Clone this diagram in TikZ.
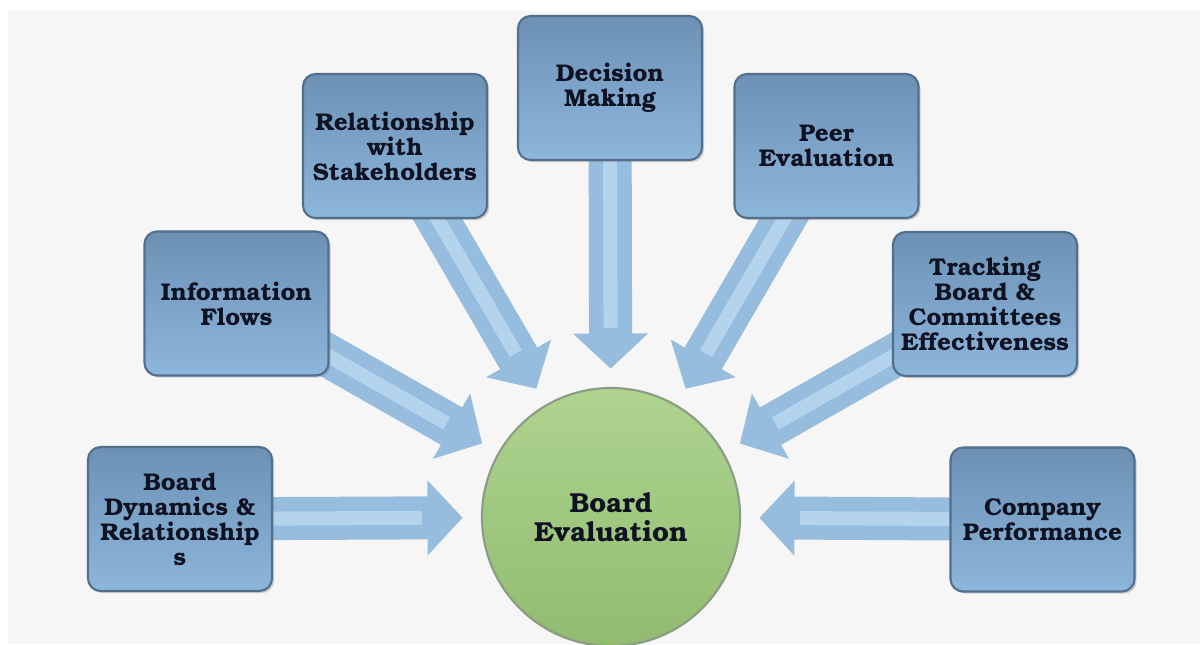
\documentclass[tikz,border=0pt]{standalone}
\usepackage{fontspec}
\setmainfont{TeX Gyre Bonum}
\usetikzlibrary{arrows.meta,backgrounds,shadows}

\definecolor{pagegray}{HTML}{F6F6F6}
\definecolor{boxtop}{HTML}{6C91B5}
\definecolor{boxbottom}{HTML}{8DB6DB}
\definecolor{boxedge}{HTML}{526F8C}
\definecolor{arrowblue}{HTML}{96BDDE}
\definecolor{arrowshine}{HTML}{B4D4EE}
\definecolor{balltop}{HTML}{AED48F}
\definecolor{ballbottom}{HTML}{92BB71}
\definecolor{balledge}{HTML}{8C9C84}
\definecolor{inktext}{HTML}{0E1222}

\tikzset{
  factor/.style={rectangle, rounded corners=9pt,
    minimum width=4.6cm, minimum height=3.6cm,
    top color=boxtop, bottom color=boxbottom, draw=boxedge, line width=1.5pt,
    drop shadow={opacity=0.35, shadow xshift=1.5pt, shadow yshift=-1.5pt},
    align=center, text=inktext, inner sep=2pt,
    font=\fontsize{17.2}{17.8}\selectfont\bfseries},
  hub/.style={circle, minimum size=6.45cm,
    top color=balltop, bottom color=ballbottom, draw=balledge, line width=1.5pt,
    align=center, text=inktext,
    font=\fontsize{19.5}{20.6}\selectfont\bfseries},
  flow/.style={arrowblue, line width=30.6pt, shorten >=13pt,
    -{Triangle[length=25pt,width=52pt]}},
  flowshine/.style={arrowshine, line width=10pt, shorten >=42pt},
}

\begin{document}
\begin{tikzpicture}[x=0.025cm, y=-0.025cm]
\useasboundingbox (0,0) rectangle (1200,644);

% the centre
\node[hub] (eval) at (611,517) {Board\\Evaluation};

% the seven factors round it
\node[factor] (dynamics) at (180,519) {Board\\Dynamics \&\\Relationship\\s};
\node[factor] (info) at (236.5,303.5) {Information\\Flows};
\node[factor] (stake) at (395,146) {Relationship\\with\\Stakeholders};
\node[factor] (decision) at (610,88) {Decision\\Making};
\node[factor] (peer) at (826.5,146) {Peer\\Evaluation};
\node[factor] (tracking) at (985,304) {Tracking\\Board \&\\Committees\\Effectiveness};
\node[factor] (perf) at (1042.5,519.5) {Company\\Performance};

\begin{scope}[on background layer]
\fill[white] (0,0) rectangle (1200,644);
\fill[pagegray] (8,11) rectangle (1200,644);

% block arrows into the centre
\foreach \src in {dynamics,info,stake,decision,peer,tracking,perf} {
  \draw[flow] (\src.center) -- (eval);
  \draw[flowshine] (\src.center) -- (eval);
}
\end{scope}

\end{tikzpicture}
\end{document}
